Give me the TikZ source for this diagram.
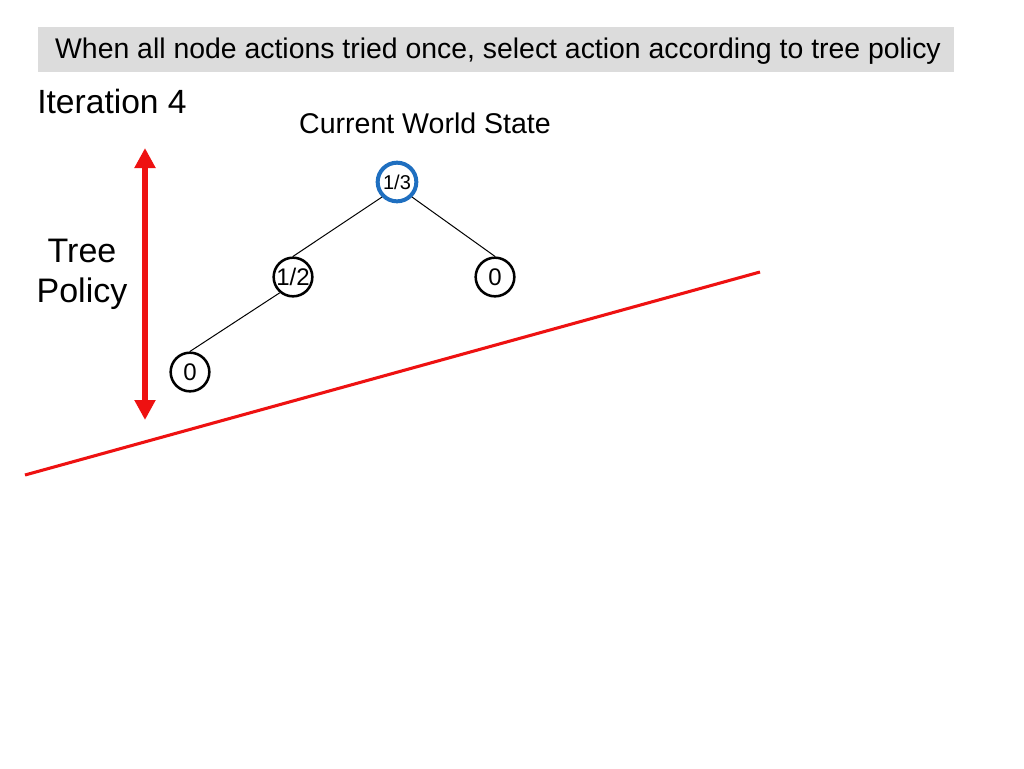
\documentclass[tikz,border=0pt]{standalone}
\usepackage{fontspec}
\setmainfont{Liberation Sans}
\usetikzlibrary{arrows.meta}
\definecolor{hdrgray}{HTML}{DCDCDC}
\definecolor{rootblue}{HTML}{1F6FC0}
\definecolor{polred}{HTML}{EE1111}
\begin{document}
\begin{tikzpicture}[x=0.75pt,y=-0.75pt,
  treenode/.style={circle,draw=black,line width=1.9pt,minimum size=29pt,inner sep=0pt,font=\fontsize{18}{20}\selectfont},
  rootnode/.style={treenode,draw=rootblue,line width=3pt,font=\fontsize{15}{17}\selectfont},
  edge/.style={draw=black,line width=0.75pt}]
\useasboundingbox[fill=white] (0,0) rectangle (1024,768);
\fill[hdrgray] (38,27) rectangle (954,72);
\node[anchor=base,inner sep=0pt,font=\fontsize{21.3}{24}\selectfont] (hdr) at (498,58.5) {When all node actions tried once, select action according to tree policy};
\node[anchor=base west,inner sep=0pt,font=\fontsize{25.2}{28}\selectfont] (iter) at (37,113) {Iteration 4};
\node[anchor=base,inner sep=0pt,font=\fontsize{21.4}{24}\selectfont] (cws) at (425,133.5) {Current World State};
\node[align=center,font=\fontsize{25.5}{30}\selectfont] (tp) at (82,274) {Tree\\Policy};
\coordinate (atop) at (145,148);
\coordinate (abot) at (145,420);
\draw[polred,line width=4.5pt,{Triangle[length=15pt,width=15pt]}-{Triangle[length=15pt,width=15pt]}] (atop) -- (abot);
\coordinate (la) at (25,475);
\coordinate (lb) at (760,272);
\draw[polred,line width=2.3pt] (la) -- (lb);
\node[rootnode] (root) at (397,182) {1/3};
\node[treenode] (n12) at (293,277) {1/2};
\node[treenode] (nr) at (495,277) {0};
\node[treenode] (nb) at (190,372) {0};
\draw[edge] (root.225) -- (n12.north);
\draw[edge] (root.-45) -- (nr.north);
\draw[edge] (n12.230) -- (nb.north);
\end{tikzpicture}
\end{document}
